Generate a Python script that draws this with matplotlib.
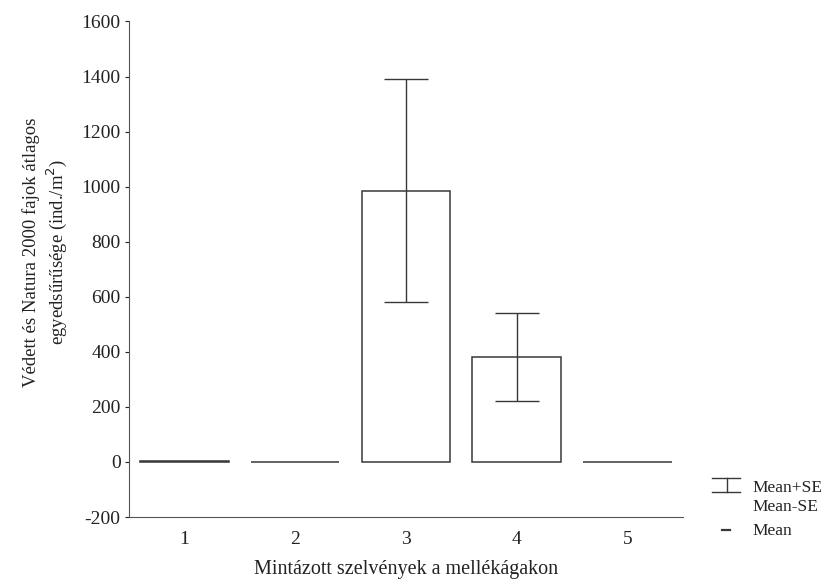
import numpy as np
import matplotlib.pyplot as plt
from matplotlib.lines import Line2D

plt.rcParams['font.family'] = ['Liberation Serif', 'DejaVu Serif']
plt.rcParams['axes.unicode_minus'] = False

sites = ['1', '2', '3', '4', '5']
means = [3, 0, 985, 380, 0]
se_upper = [3, 0, 1390, 540, 0]
se_lower = [3, 0, 580, 220, 0]

fig = plt.figure(figsize=(8.21, 5.80), dpi=100)
ax = fig.add_axes([0.157, 0.1086, 0.675, 0.8544])

x = np.arange(1, len(sites) + 1)
means = np.array(means)
err = [means - np.array(se_lower), np.array(se_upper) - means]
ax.bar(x, means, width=0.8, facecolor='white', edgecolor='#383838', linewidth=1.1)
has_err = np.array(se_upper) != np.array(se_lower)
ax.errorbar(x[has_err], means[has_err], yerr=[e[has_err] for e in err], fmt='none',
            ecolor='#383838', elinewidth=1.0, capsize=15.5, capthick=1.0)

ax.set_xlim(0.5, 5.5)
ax.set_ylim(-200, 1600)
ax.set_yticks(np.arange(-200, 1601, 200))
ax.set_xticks(x)
ax.set_xticklabels(sites)
ax.spines['top'].set_visible(False)
ax.spines['right'].set_visible(False)
for s in ['left', 'bottom']:
    ax.spines[s].set_color('#555555')
ax.tick_params(axis='both', labelsize=14, colors='#222222', length=3, width=0.8, direction='out')
ax.tick_params(axis='x', length=0, pad=10)
ax.tick_params(axis='y', pad=3)

ax.set_ylabel('Védett és Natura 2000 fajok átlagos\negyedsűrűsége (ind./m$^2$)',
              fontsize=13.5, color='#222222', linespacing=1.25)
ax.yaxis.set_label_coords(-0.108, 0.535)
ax.set_xlabel('Mintázott szelvények a mellékágakon', fontsize=14.5, color='#222222', labelpad=9)

# legend drawn by hand, outside the axes
lc = '#383838'
fig.add_artist(Line2D([0.8672, 0.9013], [0.1759, 0.1759], color=lc, lw=1.0))
fig.add_artist(Line2D([0.8672, 0.9013], [0.1517, 0.1517], color=lc, lw=1.0))
fig.add_artist(Line2D([0.8855, 0.8855], [0.1517, 0.1759], color=lc, lw=1.0))
fig.add_artist(Line2D([0.8794, 0.8892], [0.0862, 0.0862], color=lc, lw=1.6))
fig.text(0.916, 0.1586, 'Mean+SE', fontsize=12.5, color='#222222', va='center')
fig.text(0.916, 0.1259, 'Mean-SE', fontsize=12.5, color='#222222', va='center')
fig.text(0.916, 0.0845, 'Mean', fontsize=12.5, color='#222222', va='center')

fig.savefig('out.png', dpi=100)
